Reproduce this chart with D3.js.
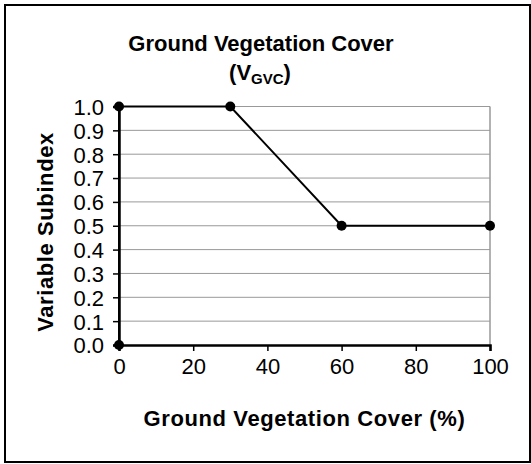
<!DOCTYPE html>
<html>
<head>
<meta charset="utf-8">
<script src="https://cdn.jsdelivr.net/npm/d3@7"></script>
<style>
  body { margin: 0; background: #fff; }
  text { font-family: "Liberation Sans", Arial, sans-serif; fill: #000; }
</style>
</head>
<body>
<svg id="chart"></svg>
<script>
// data
var coverPct = [0, 0, 30, 60, 100];
var subindex = [0, 1, 1, 0.5, 0.5];
var xTicks = [0, 20, 40, 60, 80, 100];
var yTicks = [0, 0.1, 0.2, 0.3, 0.4, 0.5, 0.6, 0.7, 0.8, 0.9, 1.0];

var width = 531, height = 464;
var svg = d3.select("#chart").attr("width", width).attr("height", height);

// outer frame
svg.append("rect")
    .attr("x", 5).attr("y", 5)
    .attr("width", 525).attr("height", 457)
    .attr("fill", "#fff")
    .attr("stroke", "#000")
    .attr("stroke-width", 2);

var x = d3.scaleLinear().domain([0, 100]).range([119, 490]);
var y = d3.scaleLinear().domain([0, 1]).range([345, 106.5]);

// gridlines
svg.append("g")
  .selectAll("line")
  .data(yTicks.filter(function(d){ return d > 0; }))
  .enter().append("line")
    .attr("x1", x(0)).attr("x2", x(100))
    .attr("y1", function(d){ return y(d); })
    .attr("y2", function(d){ return y(d); })
    .attr("stroke", "#999")
    .attr("stroke-width", 1);

// right border of plot area
svg.append("line")
    .attr("x1", x(100)).attr("x2", x(100))
    .attr("y1", y(1)).attr("y2", y(0))
    .attr("stroke", "#999")
    .attr("stroke-width", 1.5);

// axes
var xAxis = d3.axisBottom(x).tickValues(xTicks).tickSize(6).tickPadding(10);
var yAxis = d3.axisLeft(y).tickValues(yTicks).tickSize(6).tickPadding(10)
    .tickFormat(d3.format(".1f"));

var gx = svg.append("g").attr("transform", "translate(0," + y(0) + ")").call(xAxis);
var gy = svg.append("g").attr("transform", "translate(" + x(0) + ",0)").call(yAxis);

[gx, gy].forEach(function(g){
  g.select(".domain").attr("stroke", "#000").attr("stroke-width", 2.5);
  g.selectAll(".tick line").attr("stroke", "#000").attr("stroke-width", 1.5);
  g.selectAll(".tick text")
    .attr("font-family", "Liberation Sans, Arial, sans-serif")
    .attr("font-size", 22)
    .attr("fill", "#000");
});
gx.selectAll(".tick text").attr("dy", "0.75em").attr("y", 12);
gy.selectAll(".tick text").attr("x", -15).attr("dy", "0.36em");

// line
var pts = coverPct.map(function(c, i){ return [c, subindex[i]]; });
var line = d3.line()
    .x(function(d){ return x(d[0]); })
    .y(function(d){ return y(d[1]); });

svg.append("path")
    .datum(pts)
    .attr("d", line)
    .attr("fill", "none")
    .attr("stroke", "#000")
    .attr("stroke-width", 2);

svg.selectAll(".dot")
    .data(pts)
    .enter().append("circle")
    .attr("class", "dot")
    .attr("cx", function(d){ return x(d[0]); })
    .attr("cy", function(d){ return y(d[1]); })
    .attr("r", 5)
    .attr("fill", "#000");

// title
svg.append("text")
    .attr("x", 261).attr("y", 51)
    .attr("text-anchor", "middle")
    .attr("font-size", 22)
    .attr("font-weight", "bold")
    .text("Ground Vegetation Cover");

var t2 = svg.append("text")
    .attr("x", 260).attr("y", 80)
    .attr("text-anchor", "middle")
    .attr("font-size", 22)
    .attr("font-weight", "bold");
t2.append("tspan").text("(V");
t2.append("tspan").attr("font-size", 15).attr("dy", 4).text("GVC");
t2.append("tspan").attr("dy", -4).text(")");

// axis titles
svg.append("text")
    .attr("x", x(50)).attr("y", 426)
    .attr("text-anchor", "middle")
    .attr("font-size", 22)
    .attr("font-weight", "bold")
    .attr("letter-spacing", 0.6)
    .text("Ground Vegetation Cover (%)");

svg.append("text")
    .attr("transform", "translate(53,232) rotate(-90)")
    .attr("text-anchor", "middle")
    .attr("font-size", 22)
    .attr("font-weight", "bold")
    .attr("letter-spacing", 0.6)
    .text("Variable Subindex");
</script>
</body>
</html>
